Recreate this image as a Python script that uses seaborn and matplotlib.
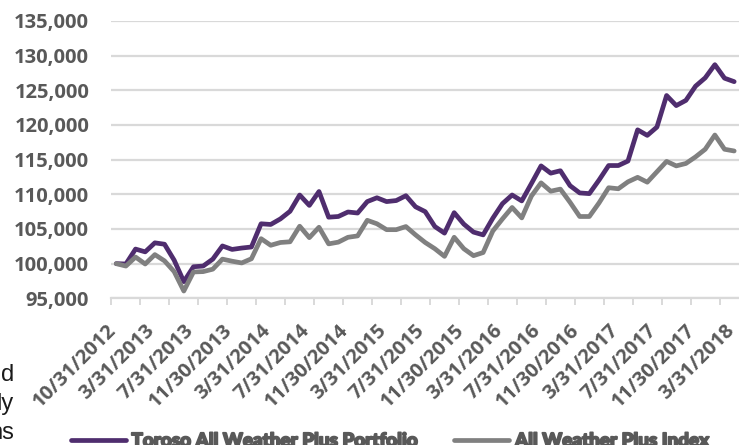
import numpy as np
import pandas as pd
import matplotlib
matplotlib.use("Agg")
import matplotlib.pyplot as plt
import matplotlib.transforms as mtransforms
import matplotlib.patheffects as pe
import seaborn as sns

# Month-end valuation dates (inception, then monthly from December 2012)
dates = ["10/31/2012"] + [d.strftime("%-m/%d/%Y") for d in
                          pd.date_range("2012-12-31", "2018-03-31", freq="ME")]

portfolio = [
    100000, 99950, 102100, 101700, 103000, 102800, 100500, 97400, 99550, 99650,
    100650, 102550, 102050, 102250, 102400, 105750, 105650, 106450, 107550, 109900,
    108400, 110400, 106700, 106800, 107450, 107300, 108950, 109500, 108950, 109100,
    109800, 108200, 107500, 105350, 104400, 107350, 105700, 104550, 104150, 106550,
    108650, 109900, 109050, 111550, 114100, 113050, 113400, 111250, 110200, 110100,
    112050, 114150, 114150, 114800, 119300, 118500, 119700, 124250, 122800, 123550,
    125600, 126800, 128700, 126750, 126250,
]
index = [
    100000, 99650, 100950, 99950, 101300, 100400, 98850, 96050, 98800, 98850,
    99200, 100650, 100350, 100100, 100700, 103600, 102650, 103050, 103150, 105400,
    103750, 105250, 102850, 103100, 103800, 104000, 106250, 105750, 104900, 104900,
    105350, 104150, 103050, 102150, 101050, 103800, 102150, 101150, 101600, 104700,
    106450, 108100, 106600, 109750, 111650, 110450, 110750, 108850, 106800, 106800,
    108750, 110950, 110800, 111800, 112450, 111750, 113250, 114750, 114100, 114450,
    115400, 116500, 118550, 116500, 116250,
]
series_names = ["Toroso All Weather Plus Portfolio", "All Weather Plus Index"]
series_colors = ["#4F2D6E", "#808080"]
y_ticks = list(range(95000, 135001, 5000))

n = len(dates)
df = pd.concat([
    pd.DataFrame({"pos": np.arange(n) + 0.5, "value": portfolio, "series": series_names[0]}),
    pd.DataFrame({"pos": np.arange(n) + 0.5, "value": index, "series": series_names[1]}),
])

sns.set_theme(style="white")
plt.rcParams["font.family"] = ["Open Sans", "DejaVu Sans"]

fig = plt.figure(figsize=(7.39, 4.45), dpi=100)
ax = fig.add_axes([111.4 / 739, 146.7 / 445, 1 - 111.4 / 739, (424 - 146.7) / 445])

sns.lineplot(data=df, x="pos", y="value", hue="series", palette=series_colors,
             hue_order=series_names, linewidth=3.4, ax=ax, legend=False)
for ln in ax.lines:
    ln.set_solid_joinstyle("round")
    ln.set_solid_capstyle("round")

ax.set_xlim(0, n)
ax.set_ylim(95000, 135000)
ax.set_xlabel("")
ax.set_ylabel("")

# y axis: light gridlines, comma labels, no spine
ax.set_yticks(y_ticks)
ax.set_yticklabels([f"{v:,}" for v in y_ticks])
ax.yaxis.grid(True, color="#D9D9D9", linewidth=1.6)
ax.tick_params(axis="y", length=0, pad=16, labelsize=14.5, labelcolor="#595959")
for lab in ax.get_yticklabels():
    lab.set_fontweight("bold")

# x axis: tick marks every 3 months, labels every 4 months
ax.set_xticks(np.arange(0, n, 3), minor=True)
ax.set_xticks(np.arange(0, n, 4) + 0.5)
ax.set_xticklabels(dates[::4], rotation=45, ha="right", va="center",
                   rotation_mode="anchor", fontweight="bold")
ax.tick_params(axis="x", which="major", length=0, pad=21, labelsize=14.5,
               labelcolor="#595959")
ax.tick_params(axis="x", which="minor", length=5, width=1.4, color="#D9D9D9",
               bottom=True, direction="out")
shift = mtransforms.ScaledTranslation(-3 / 100, 0, fig.dpi_scale_trans)
for lab in ax.get_xticklabels():
    lab.set_transform(lab.get_transform() + shift)

for side in ["top", "right", "left"]:
    ax.spines[side].set_visible(False)
ax.spines["bottom"].set_color("#D9D9D9")
ax.spines["bottom"].set_linewidth(1.6)

# legend below the chart, in a heavy face
handles = ax.lines[:2]
leg = fig.legend(handles, series_names, loc="center left", ncol=2,
                 bbox_to_anchor=(54 / 739, 4 / 445), frameon=False,
                 handlelength=2.9, handletextpad=0.3, columnspacing=1.9,
                 prop={"family": ["Lato", "DejaVu Sans"], "weight": "black", "size": 13.6})
for t in leg.get_texts():
    t.set_color("#595959")
    t.set_path_effects([pe.withStroke(linewidth=1.3, foreground="#595959")])

# trailing words of the neighbouring paragraph
for txt, yb in [("d", 381), ("ly", 410), ("ns", 439)]:
    fig.text(14 / 739, 1 - yb / 445, txt, ha="right", va="baseline",
             fontsize=17, color="#1A1A1A", family=["Liberation Sans", "DejaVu Sans"])

fig.savefig("out.png", dpi=100)
